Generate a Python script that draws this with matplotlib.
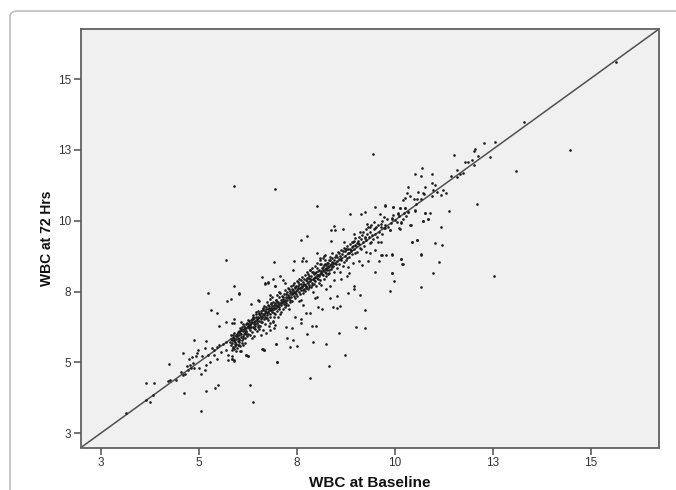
import matplotlib
matplotlib.use('Agg')
import matplotlib.pyplot as plt
from matplotlib.patches import FancyBboxPatch

plt.rcParams['font.family'] = ['Liberation Sans', 'DejaVu Sans']

# (WBC at baseline, WBC at 72 hrs)
lower_band = [(3.15,3.23),(3.66,3.69),(3.75,3.60),(3.84,3.85),(3.67,4.27),(3.87,4.27),(4.24,4.94),(4.21,4.34),(4.27,4.39),(4.43,4.38),
    (4.55,4.65),(4.60,4.55),(4.66,4.61),(4.72,4.75),(4.70,4.88),(4.77,4.91),(4.85,4.99),(4.81,4.82),(4.75,5.14),(4.83,5.18),
    (4.94,5.22),(4.95,5.34),(4.99,5.44),(4.89,4.79),(5.02,4.79),(5.15,4.75),(5.19,4.92),(5.28,5.00),(5.06,4.59),(5.15,5.50),
    (5.09,5.22),(5.23,5.26),(5.34,5.50),(5.40,5.44),(5.46,5.55),(5.53,5.61),(5.62,5.67),(5.70,5.73),(5.57,5.38),(5.70,5.44),
    (5.74,5.26),(5.74,5.08),(5.84,5.24),(5.85,5.11),(5.90,5.08),(5.46,5.13),(5.40,5.25),(5.87,5.85),(5.91,5.79),(5.96,5.67),
    (6.00,5.61),(6.04,5.73),(6.13,5.61),(6.19,5.70),(6.07,5.40),(5.83,5.97),(5.91,6.03),(6.00,6.08),(6.08,6.14),(6.17,6.20),
    (6.25,6.26),(6.34,6.38),(6.42,6.44),(6.51,6.56),(6.59,6.61),(6.68,6.73),(6.76,6.79),(6.85,6.85),(6.93,6.91),(7.02,6.99),
    (6.21,6.08),(6.30,5.97),(6.42,5.93),(6.55,6.17),(6.64,6.14),(6.72,6.05),(6.82,6.14),(6.93,6.20),(6.81,6.40),(6.89,6.44),
    (6.51,6.26),(6.59,6.44),(6.38,6.61),(6.47,6.79),(6.64,6.85),(6.76,7.03),(6.85,7.09),(6.98,7.20),(6.81,7.38),(7.04,7.50)]

core_band = [(5.80,5.72),(5.82,5.62),(5.84,5.80),(5.86,5.68),(5.88,5.56),(5.89,5.76),(5.91,5.88),(5.92,5.64),(5.94,5.72),(5.95,5.95),
    (5.96,5.82),(5.97,5.52),(5.98,6.02),(6.00,5.88),(6.01,5.75),(6.02,6.10),(6.03,5.97),(6.04,5.60),(6.06,6.05),(6.07,5.90),
    (6.08,6.18),(6.09,6.00),(6.10,5.78),(6.11,6.25),(6.12,6.12),(6.14,5.95),(6.15,6.30),(6.16,6.18),(6.17,6.05),(6.18,5.85),
    (6.20,6.35),(6.21,6.22),(6.22,6.12),(6.24,6.40),(6.25,6.28),(6.26,6.00),(6.28,6.20),(6.29,6.45),(6.30,6.32),(6.32,6.15),
    (6.33,6.50),(6.34,6.26),(6.36,6.42),(6.37,6.08),(6.38,6.55),(6.40,6.35),(6.41,6.20),(6.42,6.58),(6.44,6.48),(6.45,6.30),
    (6.46,6.70),(6.48,6.55),(6.49,6.12),(6.50,6.40),(6.52,6.62),(6.53,6.75),(6.54,6.48),(6.56,6.30),(6.57,6.68),(6.58,6.52),
    (6.60,6.80),(6.61,6.62),(6.62,6.42),(6.64,6.72),(6.65,6.90),(6.66,6.55),(6.68,6.82),(6.69,6.62),(6.70,6.35),(6.72,6.78),
    (6.73,6.95),(6.74,6.68),(6.76,6.88),(6.77,6.50),(6.78,6.75),(6.80,7.00),(6.81,6.85),(6.82,6.62),(6.84,6.92),(6.85,7.08),
    (6.86,6.78),(6.88,6.98),(6.89,6.45),(6.90,7.15),(6.92,6.88),(6.93,7.02),(6.94,6.70),(6.96,7.10),(6.97,6.92),(6.98,7.22),
    (7.00,7.00),(7.01,6.82),(7.02,7.15),(7.04,6.95),(7.05,7.30),(7.06,7.08),(7.08,6.72),(7.09,7.20),(7.10,7.02),(7.12,7.35),
    (7.13,7.12),(7.14,6.88),(7.16,7.25),(7.17,7.05),(7.18,7.42),(7.20,7.18),(7.21,6.95),(7.22,7.30),(7.24,7.10),(7.25,7.48),
    (7.26,7.22),(7.28,7.02),(7.29,7.38),(7.30,7.60),(7.31,7.28),(7.32,7.12),(7.34,7.45),(7.35,7.30),(7.36,7.70),(7.38,7.40),
    (7.39,7.18),(7.40,7.55),(7.42,7.35),(7.43,7.80),(7.44,7.50),(7.46,7.28),(7.47,7.62),(7.48,7.42),(7.50,7.88),(7.51,7.55),
    (7.52,7.35),(7.54,7.70),(7.55,7.48),(7.56,7.95),(7.58,7.62),(7.59,7.40),(7.60,7.78),(7.62,7.55),(7.63,8.02),(7.64,7.68),
    (7.66,7.45),(7.67,7.85),(7.68,7.60),(7.70,8.10),(7.71,7.75),(7.72,7.52),(7.74,7.90),(7.75,7.68),(7.76,8.18),(7.78,7.82),
    (7.79,7.58),(7.80,7.98),(7.82,7.75),(7.83,8.28),(7.84,7.88),(7.86,7.65),(7.87,8.05),(7.88,7.82),(7.90,8.35),(7.91,7.95),
    (7.92,7.48),(7.94,8.12),(7.95,7.90),(7.96,8.42),(7.98,8.02),(7.99,7.70),(8.00,8.20),(8.02,7.98),(8.03,8.50),(8.04,8.10),
    (8.06,7.82),(8.07,8.28),(8.08,8.05),(8.10,8.60),(8.11,8.18),(8.12,7.75),(8.14,8.35),(8.15,8.12),(8.16,8.68),(8.18,8.25),
    (8.19,7.95),(8.20,8.45),(8.22,8.20),(8.23,8.78),(8.24,8.32),(8.26,8.05),(8.27,8.52),(8.28,8.28),(8.30,8.40),(8.32,8.62),
    (8.33,8.15),(8.35,8.45),(8.36,8.72),(8.38,8.30),(8.40,8.55),(8.41,8.85),(8.43,8.40),(8.45,8.62),(8.46,8.20),(8.48,8.50),
    (8.50,8.78),(8.52,8.58),(8.53,8.35),(8.55,8.90),(8.57,8.65),(8.58,8.48),(8.60,8.75),(8.62,8.98),(8.64,8.62),(8.66,8.82),
    (8.68,8.40),(8.70,9.05),(8.72,8.75),(8.74,8.92),(8.76,8.60),(8.78,9.10),(8.80,8.85),(8.82,9.00),(8.84,8.72),(8.86,9.18),
    (8.88,8.95),(8.90,9.08),(8.92,8.82),(8.94,9.25),(8.96,9.02),(8.98,9.15),(9.00,9.38),(9.02,9.10),(9.04,8.90),(9.06,9.28),
    (9.08,9.42),(9.10,9.18),(9.12,9.05),(9.14,9.35),(9.16,9.50),(9.18,9.25),(9.20,9.62),(9.22,9.12),(9.24,9.40),(9.26,9.70),
    (9.28,9.32),(9.30,9.52),(9.32,9.78),(9.34,9.42),(9.36,9.20),(9.38,9.60),(9.40,9.85),(9.42,9.50),(9.44,9.35),(9.46,9.70),
    (9.48,9.95),(9.50,9.55),(9.52,9.78),(9.55,9.42),(9.58,9.85),(9.60,9.62),(9.64,9.90),(9.68,9.55),(9.72,10.15),(9.76,9.85),
    (9.80,10.05),(9.84,9.78),(9.90,9.92),(9.95,10.20),(10.0,10.02),(10.05,9.95),(10.1,10.18),
    (8.95,9.55),(9.11,9.59),(9.29,9.88),(9.36,9.79),(9.49,9.73),(9.62,10.24),(9.67,10.00),(9.72,9.73),(9.87,9.69),(9.94,10.08),
    (10.08,10.24),(10.14,10.46),(10.25,10.44),(10.34,10.32),(10.53,10.38),(10.21,10.06),(10.17,9.93),(8.91,9.26),(9.06,9.20),(9.23,9.43),
    (9.40,9.26),(9.57,9.26),(8.70,9.26),(8.77,9.02),(8.89,8.96),(9.00,8.85),(9.15,9.00),(9.28,8.90),(9.36,8.85)]

# thick clumps along the band, about x 5.8 to 8.8
band_clumps = [(5.83,5.84),(5.87,5.50),(5.93,5.59),(5.99,5.94),(6.03,5.84),(6.05,6.22),(6.11,5.68),(6.13,6.37),(6.19,6.10),(6.23,5.92),
    (6.27,6.51),(6.31,6.41),(6.35,5.88),(6.39,6.68),(6.43,6.17),(6.47,6.62),(6.51,6.83),(6.55,6.71),(6.59,5.98),(6.63,6.92),
    (6.67,6.98),(6.71,6.58),(6.75,7.12),(6.79,6.28),(6.83,7.24),(6.87,7.30),(6.91,6.62),(6.95,6.33),(6.99,7.38),(7.03,6.60),
    (7.07,7.44),(7.11,6.78),(7.15,7.14),(7.19,7.55),(7.23,7.40),(7.27,7.64),(7.31,6.90),(7.33,7.52),(7.37,7.58),(7.41,7.72),
    (7.45,7.46),(7.49,7.70),(7.53,7.84),(7.57,7.18),(7.61,7.92),(7.65,7.72),(7.69,7.95),(7.73,7.70),(7.77,7.98),(7.81,8.06),
    (7.85,7.96),(7.89,8.20),(7.93,7.78),(7.97,8.16),(8.01,8.32),(8.05,8.24),(8.09,7.92),(8.13,8.46),(8.17,8.38),(8.21,8.62),
    (8.25,8.44),(8.29,8.14),(8.31,8.52),(8.35,8.60),(8.39,8.70),(8.42,8.50),(8.47,8.74),(8.51,8.46),(8.54,8.72),(8.59,8.88),
    (8.63,8.70),(8.67,8.94),(8.71,8.56),(8.75,9.02),(8.79,8.70),(8.83,8.88),(8.87,9.02),(8.93,9.12),(8.97,9.30),(9.03,9.22),
    (5.88,5.98),(5.90,5.46),(5.96,5.42),(6.02,5.80),(6.06,5.58),(6.12,5.88),(6.16,6.02),(6.20,6.02),(6.26,6.36),(6.31,6.24),
    (6.35,6.52),(6.39,6.26),(6.44,6.36),(6.48,6.46),(6.52,6.34),(6.58,6.74),(6.62,6.60),(6.67,6.66),(6.71,6.88),(6.75,6.58),
    (6.79,6.92),(6.83,6.70),(6.88,6.86),(6.92,6.74),(6.97,7.04),(7.01,7.12),(7.05,6.88),(7.11,7.10),(7.15,7.32),(7.19,7.16),
    (7.23,7.02),(7.27,7.32),(7.33,7.22),(7.37,7.48),(7.41,7.44),(7.45,7.66),(7.49,7.52),(7.53,7.62),(7.57,7.76),(7.61,7.66),
    (7.65,7.56),(7.69,7.78),(7.73,7.62),(7.77,7.88),(7.81,7.68),(7.85,7.94),(7.89,7.74),(7.93,7.98),(7.97,7.86),(8.01,8.08),
    (8.05,7.94),(8.09,8.14),(8.13,8.22),(8.17,8.08),(8.21,8.30),(8.25,8.16),(8.29,8.38),(8.33,8.28),(8.37,8.48),(8.41,8.36)]

upper_band = [(15.65,15.62),(13.29,13.50),(12.55,12.78),(12.27,12.73),(12.04,12.53),(12.01,12.46),(12.43,12.26),(12.13,12.30),(12.03,11.97),(11.52,12.31),
    (11.79,12.06),(11.87,12.06),(11.96,12.16),(11.60,11.78),(11.73,11.70),(11.43,11.59),(11.58,11.53),(11.66,11.64),(10.69,11.85),(10.51,11.66),
    (10.67,11.57),(10.96,11.66),(10.94,11.34),(11.02,11.28),(10.34,11.21),(10.98,11.08),(11.07,11.02),(11.24,11.08),(11.30,10.99),(11.18,10.91),
    (10.96,10.88),(10.60,11.01),(10.71,10.99),(10.74,10.94),(10.32,10.99),(10.39,10.89),(10.26,10.82),(10.22,10.75),(10.50,10.78),(10.56,10.77),
    (10.68,10.77),(10.78,11.20),(10.54,10.61),(9.75,10.54),(9.96,10.48),(10.13,10.46),(10.26,10.45),(10.09,10.26),(10.23,10.28),(10.34,10.32),
    (10.51,10.35),(10.78,10.27),(10.89,10.29),(11.39,10.35),(10.73,10.01),(10.85,10.07),(11.19,9.78),(10.40,9.85),(10.17,9.96),(10.30,10.16),
    (9.94,10.09),(10.13,9.72),(9.88,9.67),(9.75,9.73),(9.66,9.79)]

outliers = [(5.07,3.28),(4.63,3.91),(5.18,4.01),(5.42,4.09),(5.50,4.19),(6.30,4.21),(6.39,3.59),(4.60,5.32),(4.88,5.81),(5.19,5.75),
    (5.24,7.45),(5.32,6.85),(5.46,6.74),(5.91,7.70),(6.02,7.44),(5.73,7.18),(5.82,7.23),(6.68,7.78),(6.76,7.83),(6.94,7.70),
    (6.34,7.06),(6.51,7.20),(6.55,7.18),(5.70,6.44),(5.53,6.30),(5.85,6.41),(5.91,6.52),(5.90,6.40),(6.07,6.44),(6.98,5.67),
    (7.00,5.02),(6.62,5.47),(6.66,5.45),(6.21,5.26),(6.25,5.22),(8.01,10.54),(6.92,8.56),(7.43,8.59),(7.60,9.32),(7.77,9.48),
    (8.38,9.69),(8.49,9.67),(8.45,9.82),(8.67,9.72),(8.38,9.30),(8.85,10.24),(9.14,10.24),(9.23,10.31),(9.51,10.49),(9.74,10.55),
    (9.96,10.49),(6.61,8.03),(6.03,7.43),(6.68,7.79),(6.77,7.82),(6.90,7.96),(7.07,8.06),(7.15,7.90),(7.21,7.81),(6.95,7.69),
    (7.41,8.28),(7.66,8.70),(7.64,8.57),(7.75,8.57),(8.03,8.85),(8.20,8.75),(8.09,8.70),(8.21,8.49),(8.09,8.49),(7.83,8.26),
    (7.92,8.20),(7.79,8.14),(7.84,4.44),(8.33,4.86),(8.72,5.25),(7.01,5.02),(6.64,5.46),(6.67,5.44),(6.22,5.25),(6.26,5.23),
    (5.91,5.05),(5.85,5.14),(6.05,5.39),(5.86,5.43),(7.32,5.55),(7.51,5.57),(7.41,5.81),(7.26,5.87),(6.98,5.67),(7.92,5.72),
    (8.26,5.64),(7.77,6.02),(8.57,6.03),(9.02,6.24),(9.23,6.21),(7.90,6.29),(8.00,6.30),(7.24,6.24),(7.39,6.20),(7.60,6.55),
    (7.61,6.40),(7.45,6.61),(7.75,6.75),(7.83,6.75),(8.04,6.95),(8.14,6.90),(8.43,6.96),(8.53,6.91),(8.60,7.01),(9.23,6.87),
    (8.34,7.26),(8.54,7.34),(8.82,7.46),(9.12,7.37),(8.95,7.71),(8.97,7.59),(9.87,7.51),(10.68,7.67),(9.97,7.86),(9.93,8.16),
    (9.49,8.19),(10.19,8.47),(10.15,8.65),(9.61,8.57),(9.17,8.43),(9.32,8.57),(9.09,8.59),(8.94,8.52),(10.68,8.82),(9.92,8.82),
    (9.68,8.80),(9.50,8.96),(10.45,9.26),(10.56,9.32),(10.72,10.01),(10.86,10.07),(10.78,10.26),(10.41,9.85),(10.11,9.73),(8.81,8.37),
    (8.83,8.16),(8.78,8.06),(8.61,8.20),(8.62,7.94),(8.45,7.90),(8.34,7.69),(8.26,7.61),(7.98,7.26),(8.02,7.30),(7.62,7.20),
    (7.66,7.04),(14.47,12.50),(13.09,11.77),(12.10,10.60),(10.56,9.32),(10.44,9.27),(11.04,9.20),(11.20,9.13),(10.68,8.81),(11.13,8.55),
    (9.93,8.81),(10.16,8.66),(10.20,8.47),(9.93,8.15),(10.98,8.15),(12.53,8.06),(9.79,8.81),(9.65,8.81),(9.66,9.26),
    (5.89,11.23),(6.96,11.12),(9.44,12.36),(5.69,8.61)]

tick_values = [2.5, 5, 7.5, 10, 12.5, 15]
tick_labels = ['3', '5', '8', '10', '13', '15']
x_label = 'WBC at Baseline'
y_label = 'WBC at 72 Hrs'

fig = plt.figure(figsize=(6.76, 4.90), dpi=100)

# rounded frame, only top and left edges fall inside the picture
frame = FancyBboxPatch((10/676, -0.1), 1.0, 1.0 + 0.1 - 11/490, boxstyle='round,pad=0,rounding_size=0.012',
                       transform=fig.transFigure, fc='white', ec='#bcbcbc', lw=1.2, clip_on=False, zorder=-1)
fig.add_artist(frame)

ax = fig.add_axes([81/676, 1 - 447.5/490, 578/676, 418.5/490])
ax.set_facecolor('#f0f0f0')
ax.set_xlim(2.0, 16.74)
ax.set_ylim(2.0, 16.77)

ax.plot([2.0, 16.74], [2.0, 16.77], color='#505050', lw=1.1, zorder=2)

for group in (lower_band, core_band, band_clumps, upper_band, outliers):
    xs, ys = zip(*group)
    ax.scatter(xs, ys, s=3.6, color='#1c1c1c', linewidths=0, zorder=3)

ax.set_xticks(tick_values)
ax.set_xticklabels(tick_labels)
ax.set_yticks(tick_values)
ax.set_yticklabels(tick_labels)
ax.tick_params(length=5, width=1.1, color='#505050', labelsize=8.5, labelcolor='#333333', pad=2)
for s in ax.spines.values():
    s.set_color('#606060')
    s.set_linewidth(1.3)

ax.set_xlabel(x_label, fontsize=11, fontweight='bold', labelpad=5)
ax.xaxis.get_label().set_color('#111111')
ax.set_ylabel(y_label, fontsize=10, fontweight='bold', labelpad=3)
ax.yaxis.get_label().set_color('#111111')

fig.savefig('out.png', dpi=100)
